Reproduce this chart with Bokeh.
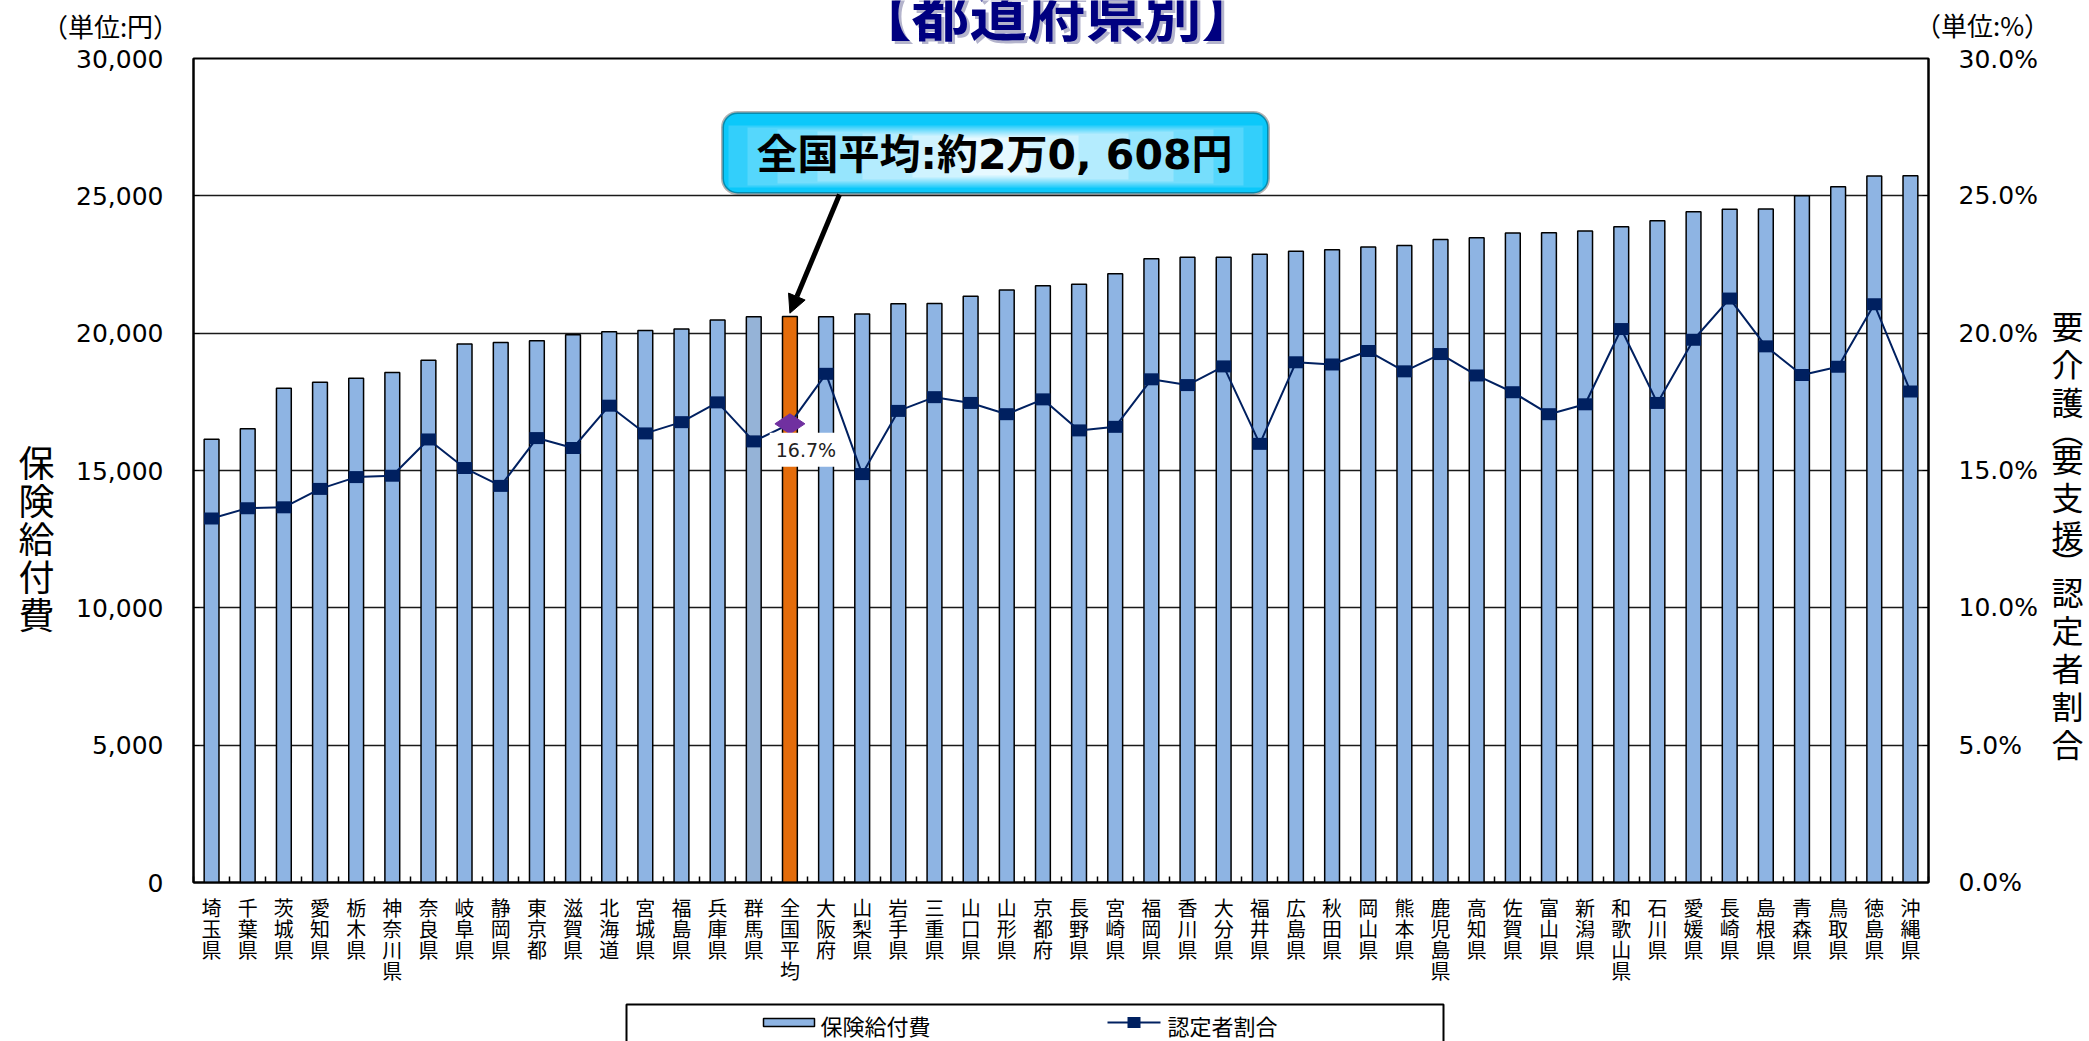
import math
from bokeh.plotting import figure
from bokeh.models import (ColumnDataSource, Range1d, LinearAxis, FixedTicker,
                          CustomJSTickFormatter, NumeralTickFormatter, PrintfTickFormatter,
                          Label, Arrow, NormalHead, BoxAnnotation, CDSView, IndexFilter)
from bokeh.layouts import column, row
from bokeh.embed import file_html
from bokeh.resources import INLINE
from bokeh.core.properties import value

# ---------------- data ----------------
prefectures = ["埼玉県", "千葉県", "茨城県", "愛知県", "栃木県", "神奈川県", "奈良県", "岐阜県",
               "静岡県", "東京都", "滋賀県", "北海道", "宮城県", "福島県", "兵庫県", "群馬県",
               "全国平均", "大阪府", "山梨県", "岩手県", "三重県", "山口県", "山形県", "京都府",
               "長野県", "宮崎県", "福岡県", "香川県", "大分県", "福井県", "広島県", "秋田県",
               "岡山県", "熊本県", "鹿児島県", "高知県", "佐賀県", "富山県", "新潟県", "和歌山県",
               "石川県", "愛媛県", "長崎県", "島根県", "青森県", "鳥取県", "徳島県", "沖縄県"]

benefit_yen = [16140, 16520, 17990, 18210, 18360, 18570, 19010, 19610,
               19660, 19720, 19940, 20050, 20100, 20150, 20480, 20600,
               20608, 20600, 20700, 21070, 21080, 21340, 21570, 21730,
               21780, 22160, 22710, 22760, 22760, 22870, 22980, 23040,
               23140, 23190, 23410, 23470, 23650, 23660, 23720, 23870,
               24090, 24420, 24510, 24520, 25000, 25330, 25720, 25730]

cert_rate_pct = [13.25, 13.63, 13.66, 14.33, 14.76, 14.81, 16.13, 15.09,
                 14.44, 16.18, 15.82, 17.36, 16.35, 16.76, 17.48, 16.06,
                 16.7, 18.52, 14.87, 17.17, 17.67, 17.46, 17.05, 17.59,
                 16.46, 16.59, 18.32, 18.11, 18.79, 15.97, 18.94, 18.86,
                 19.35, 18.61, 19.24, 18.46, 17.85, 17.05, 17.41, 20.15,
                 17.46, 19.76, 21.26, 19.52, 18.48, 18.78, 21.05, 17.88]

national_label = "全国平均"
national_callout_text = "全国平均:約2万0, 608円"
national_rate_text = "16.7%"
title_text = "【都道府県別】"
unit_left_text = "（単位:円）"
unit_right_text = "（単位:%）"
left_axis_title = ["保", "険", "給", "付", "費"]
right_axis_title = ["要", "介", "護", "︵", "要", "支", "援", "︶", "認", "定", "者", "割", "合"]
legend_bar_text = "保険給付費"
legend_line_text = "認定者割合"
y_ticks_yen = [0, 5000, 10000, 15000, 20000, 25000, 30000]
y_ticks_pct = [0, 5, 10, 15, 20, 25, 30]

# ---------------- layout constants (page px) ----------------
N = len(prefectures)
YMAX = 30000
PMAX = 30
PW, PH = 2089, 1041
TOP_H = 44          # title strip
BOT_Y = 1000        # legend strip starts here
LEFT_W = 62
RIGHT_X = 2044
FL, FR, FT, FB = 193, 1928, 58, 882   # frame edges (page px)
MAIN_W = RIGHT_X - LEFT_W
MAIN_H = BOT_Y - TOP_H


def dx(px):
    return (px - FL) / (FR - FL) * N


def dy(py):
    return (FB - py) / (FB - FT) * YMAX


JP = "Noto Sans CJK JP"
NUM = "DejaVu Sans"
BAR = "#8EB4E3"
NAVY = "#002060"


def strip(x0, x1, y0, y1, ry0=None, ry1=None, **kw):
    ry0 = y0 if ry0 is None else ry0
    ry1 = y1 if ry1 is None else ry1
    f = figure(width=x1 - x0, height=y1 - y0, x_range=Range1d(x0, x1),
               y_range=Range1d(ry1, ry0), output_backend="svg", toolbar_location=None,
               x_axis_type=None, y_axis_type=None, min_border=0, **kw)
    f.outline_line_color = None
    f.grid.visible = False
    f.background_fill_color = "white"
    f.border_fill_color = "white"
    return f


nat = prefectures.index(national_label)
colors = []
for name in prefectures:
    if name == national_label:
        colors.append("#E46C0A")
    elif name == "群馬県":
        colors.append("#95B3D7")
    else:
        colors.append(BAR)

xs = [i + 0.5 for i in range(N)]
vlabels = ["\n".join(list(n)) for n in prefectures]
src = ColumnDataSource(dict(x=xs, benefit=benefit_yen, rate=cert_rate_pct, color=colors))

# ---------------- main chart ----------------
p = figure(width=MAIN_W, height=MAIN_H, x_range=Range1d(0, N), y_range=Range1d(0, YMAX),
           output_backend="svg", toolbar_location=None,
           min_border_left=FL - LEFT_W, min_border_right=RIGHT_X - FR,
           min_border_top=FT - TOP_H, min_border_bottom=BOT_Y - FB)
p.extra_y_ranges = {"pct": Range1d(0, PMAX)}
p.background_fill_color = "white"
p.border_fill_color = "white"
p.outline_line_color = "black"
p.outline_line_width = 2

xa = p.xaxis[0]
xa.ticker = FixedTicker(ticks=xs, minor_ticks=list(range(N + 1)))
xa.formatter = CustomJSTickFormatter(args=dict(labels=vlabels),
                                     code="return labels[Math.floor(tick)];")
xa.axis_line_color = "black"
xa.axis_line_width = 2
xa.major_tick_line_color = None
xa.major_tick_in = 0
xa.major_tick_out = 0
xa.minor_tick_line_color = "black"
xa.minor_tick_line_width = 1.5
xa.minor_tick_in = 6
xa.minor_tick_out = 0
xa.major_label_text_font = JP
xa.major_label_text_font_size = "20px"
xa.major_label_text_line_height = 0.73
xa.major_label_text_color = "black"
xa.major_label_standoff = 10

ya = p.yaxis[0]
ya.ticker = FixedTicker(ticks=y_ticks_yen)
ya.formatter = NumeralTickFormatter(format="0,0")

ra = LinearAxis(y_range_name="pct", ticker=FixedTicker(ticks=y_ticks_pct),
                formatter=PrintfTickFormatter(format="%.1f%%"))
p.add_layout(ra, "right")

for ax in (ya, ra):
    ax.axis_line_color = "black"
    ax.axis_line_width = 2
    ax.major_tick_in = 6
    ax.major_tick_out = 0
    ax.major_tick_line_color = "black"
    ax.minor_tick_line_color = None
    ax.major_label_text_font = NUM
    ax.major_label_text_font_size = "25px"
    ax.major_label_text_color = "black"
    ax.major_label_standoff = 30

p.xgrid.visible = False
p.ygrid.grid_line_color = "#1a1a1a"
p.ygrid.grid_line_width = 1.5

p.vbar(x="x", top="benefit", width=0.41, source=src, fill_color="color",
       line_color="black", line_width=1.5)

p.line(x="x", y="rate", source=src, y_range_name="pct", line_color=NAVY, line_width=2)
others = [i for i in range(N) if i != nat]
p.rect(x="x", y="rate", width=15, height=12, width_units="screen", height_units="screen",
       source=src, view=CDSView(filter=IndexFilter(others)), y_range_name="pct",
       fill_color=NAVY, line_color=None)
p.scatter(x=[xs[nat]], y=[cert_rate_pct[nat]], marker="diamond", size=30, angle=math.pi / 2,
          y_range_name="pct", fill_color="#7030A0", line_color="#7030A0")

p.add_layout(Label(x=xs[nat], y=cert_rate_pct[nat], y_range_name="pct", text=national_rate_text,
                   x_offset=16, y_offset=-26, text_align="center", text_baseline="middle",
                   text_font=NUM, text_font_size="19px", text_color="#222222",
                   background_fill_color="white", padding=6))

# callout box (simulated gradient)
CL, CR, CT, CB = 722, 1268, 112, 193
p.add_layout(BoxAnnotation(left=dx(CL), right=dx(CR), top=dy(CT), bottom=dy(CB),
                           fill_color="#0BC8FA", fill_alpha=1.0, line_color="black",
                           line_width=3, border_radius=15))
layers = [(6, 13, 6, "#33CFFB"), (25, 15, 8, "#55D7FC"), (55, 17, 10, "#76DEFC"),
          (95, 19, 12, "#96E5FD"), (140, 21, 14, "#B4ECFE"), (190, 23, 16, "#CFF3FE"),
          (240, 25, 18, "#E6F9FF")]
for ix, it, ib, col in layers:
    p.add_layout(BoxAnnotation(left=dx(CL + ix), right=dx(CR - ix), top=dy(CT + it),
                               bottom=dy(CB - ib), fill_color=col, fill_alpha=1.0,
                               line_color=None))
p.add_layout(Label(x=dx(994), y=dy(154), text=national_callout_text,
                   text_align="center", text_baseline="middle",
                   text_font="DejaVu Sans, Noto Sans CJK JP", text_font_style="bold",
                   text_font_size="41px", text_color="black"))
p.add_layout(Arrow(end=NormalHead(size=18, fill_color="black", line_color="black"),
                   x_start=dx(839), y_start=dy(CB + 1), x_end=xs[nat],
                   y_end=benefit_yen[nat] + 120, line_width=5, line_color="black"))

# ---------------- title strip (title cut at the page top as in the source) ----------------
top = strip(0, PW, 0, TOP_H)
for ox, oy, col in ((3, 3, "#B4B4CC"), (0, 0, "#000080")):
    top.text(x=[1056 + ox], y=[10 + oy], text=[title_text], text_align="center",
             text_baseline="middle", text_font=value(JP), text_font_style="bold",
             text_font_size="58px", text_color=col)
top.text(x=[110, 1982], y=[25, 24], text=[unit_left_text, unit_right_text],
         text_align="center", text_baseline="middle", text_font=value(JP),
         text_font_size="26px", text_color="black")

# ---------------- side strips (vertical axis titles) ----------------
# side strips share the main frame's vertical extent (row aligns plot frames)
side_kw = dict(min_border_top=FT - TOP_H, min_border_bottom=BOT_Y - FB)
left = strip(0, LEFT_W, TOP_H, BOT_Y, FT, FB, **side_kw)
LP = 38.1
left.text(x=[36] * len(left_axis_title), y=[460 + k * LP for k in range(len(left_axis_title))],
          text=left_axis_title, text_align="center", text_baseline="middle",
          text_font=value(JP), text_font_size="36px", text_color="black")

right = strip(RIGHT_X, PW, TOP_H, BOT_Y, FT, FB, **side_kw)
RP = 38.0
ys_r = []
cur = 324.0
prev = None
for ch in right_axis_title:
    h = 0.5 if ch in ("︵", "︶") else 1.0
    if prev is not None:
        cur += RP * (prev + h) / 2
    ys_r.append(cur)
    prev = h
right.text(x=[2067] * len(right_axis_title), y=ys_r, text=right_axis_title,
           text_align="center", text_baseline="middle", text_font=value(JP),
           text_font_size="32px", text_color="black")

# ---------------- legend strip (box cut at bottom) ----------------
lf = strip(0, PW, BOT_Y, PH)
lf.quad(left=[626], right=[1443], top=[1004], bottom=[1100], fill_color=None,
        line_color="black", line_width=2)
lf.quad(left=[763], right=[814], top=[1018], bottom=[1026], fill_color=BAR,
        line_color="black", line_width=1.5)
lf.line(x=[1107, 1160], y=[1022, 1022], line_color=NAVY, line_width=2)
lf.rect(x=[1133.5], y=[1022], width=13, height=11, fill_color=NAVY, line_color=None)
lf.text(x=[820, 1167], y=[1024.5, 1024.5], text=[legend_bar_text, legend_line_text],
        text_font=value(JP), text_font_size="22px", text_baseline="middle",
        text_align="left", text_color="black")

layout = column(top, row(left, p, right, spacing=0), lf, spacing=0)
open("out.html", "w").write(file_html(layout, INLINE))
